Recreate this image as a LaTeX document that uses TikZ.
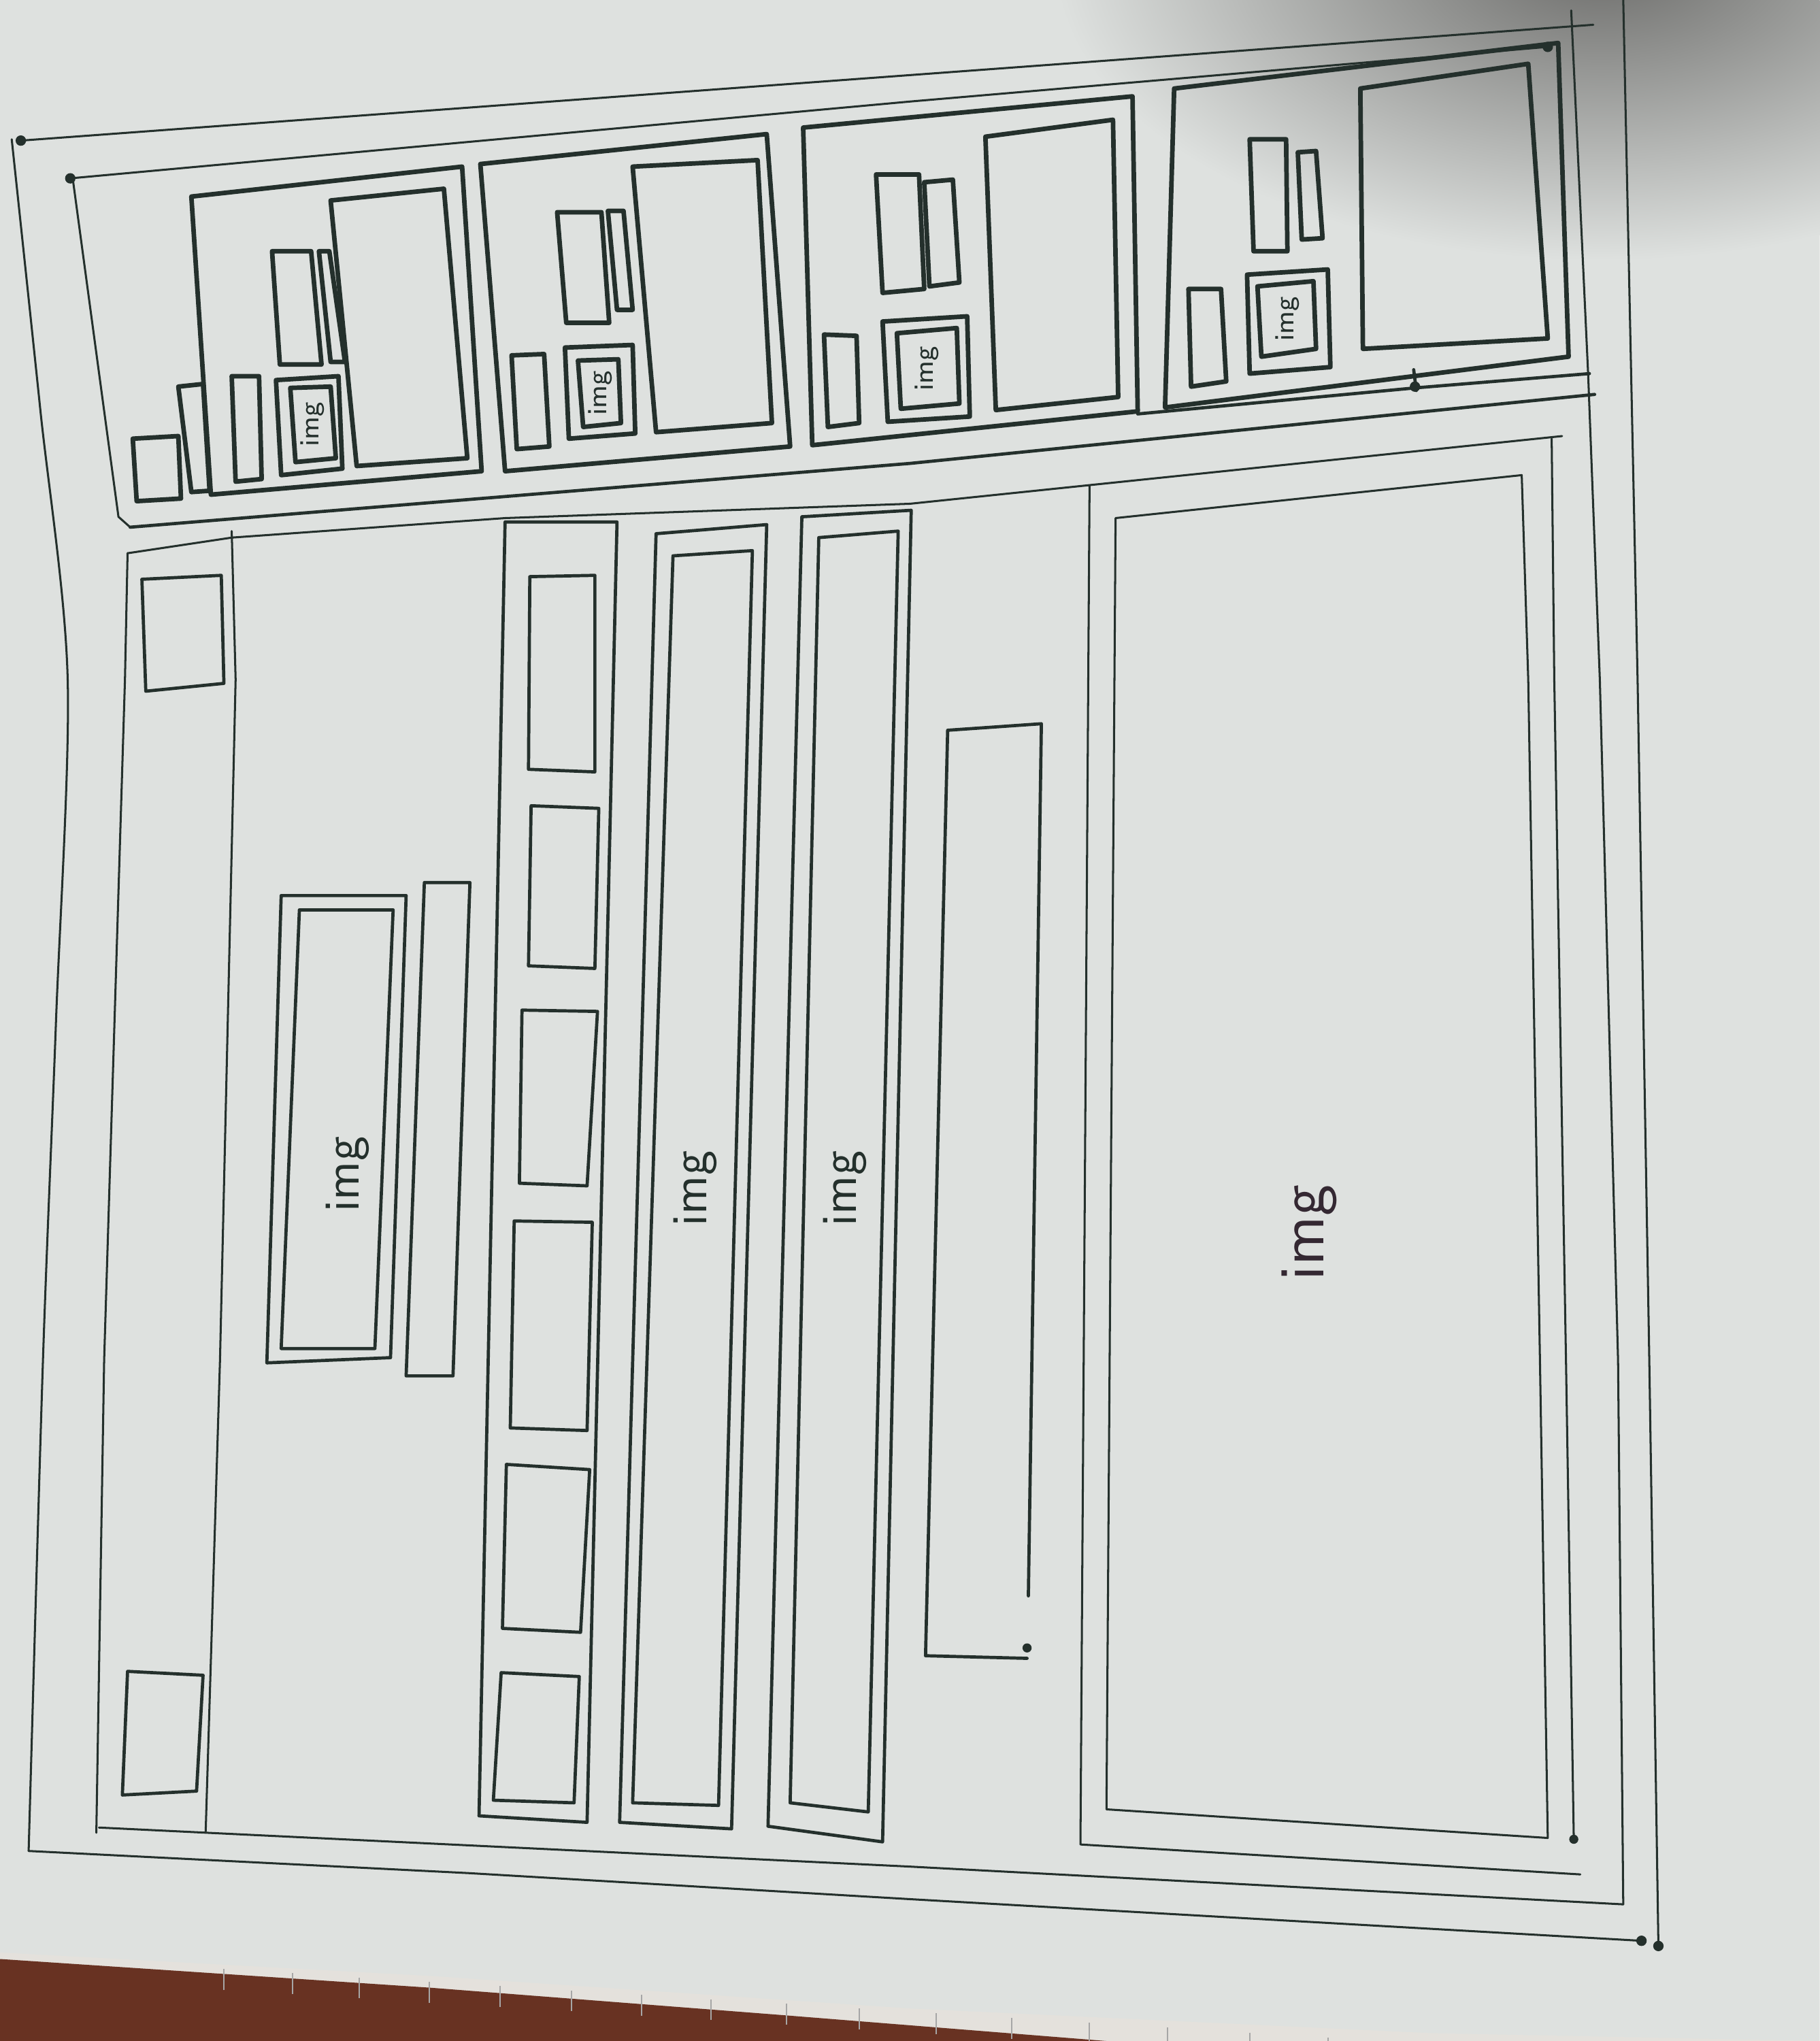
\documentclass[tikz,border=0pt]{standalone}
\definecolor{paper}{RGB}{222,225,223}
\definecolor{ink}{RGB}{36,48,44}
\definecolor{inkp}{RGB}{52,40,50}
\definecolor{shadowgrey}{RGB}{108,108,106}
\definecolor{wood}{RGB}{104,50,34}
\definecolor{ruler}{RGB}{228,225,220}
\begin{document}
\begin{tikzpicture}[x=0.01cm, y=-0.01cm,
    outline/.style={draw=ink, line width=0.45pt, line cap=round, line join=round},
    pen/.style={draw=ink, line width=0.7pt, line cap=round, line join=round},
    heavy/.style={draw=ink, line width=1pt, line cap=round, line join=round},
    lbl/.style={inner sep=0pt, rotate=90, text=ink, font=\sffamily},
    blob/.style={fill=ink},
  ]
  \useasboundingbox (0,0) rectangle (1398,1568);
  \begin{scope}
    \clip (0,0) rectangle (1398,1568);
    % paper, shadow and desk
    \fill[paper] (0,0) rectangle (1398,1568);
    \shade[inner color=shadowgrey, outer color=paper] (1230,-30) ellipse (420 and 230);
    \fill[ruler] (0,1500) -- (330,1518) -- (699,1543) -- (1100,1562) -- (1398,1568) -- (0,1568) -- cycle;
    \fill[wood] (0,1505) -- (330,1527) -- (600,1548) -- (850,1568) -- (0,1568) -- cycle;
    \foreach \t in {172,225,276,330,384,439,493,546,604,660,719,777,837,897,960,1020} {
      \draw[gray!70, line width=0.3pt] (\t,1502+0.062*\t) -- (\t,1518+0.062*\t);
    }
  \end{scope}

  % outer frame
  \draw[outline] (16,108) -- (1224,19);
  \draw[outline] plot[smooth] coordinates {(9,107) (31,315) (52,522) (43,785) (33,1045) (22,1422)};
  \draw[outline] (22,1422) -- (360,1439) -- (699,1459) -- (1261,1491);
  \draw[outline] (1247,0) -- (1258,522) -- (1267,1045) -- (1274,1495);
  \fill[blob] (16,108) circle (4) (1261,1491) circle (4) (1274,1495) circle (4);

  % second frame
  \draw[outline] (54,137) -- (699,78) -- (1189,36);
  \draw[outline] (56,138) -- (91,397) -- (100,405);
  \draw[outline] (1207,8) -- (1220,287) -- (1229,522) -- (1243,1045) -- (1247,1463);
  \draw[outline] (76,1404) -- (699,1434) -- (1247,1463);
  \fill[blob] (54,137) circle (4) (1189,36) circle (4);

  % separators under the cards
  \draw[pen] (874,318) -- (1087,298) -- (1221,287);
  \draw[pen] (1086,284) -- (1088,300);
  \fill[blob] (1087,297) circle (4);
  \draw[pen] (100,405) -- (699,356) -- (1225,303);
  \draw[outline] (98,425) -- (178,413) -- (388,398) -- (699,387) -- (1200,335);

  % card 1
  \draw[heavy] (147,151) -- (355,128) -- (370,362) -- (162,380) -- cycle;
  \draw[heavy] (254,154) -- (341,145) -- (359,352) -- (274,358) -- cycle;
  \draw[heavy] (209,193) -- (239,193) -- (247,280) -- (215,280) -- cycle;
  \draw[heavy] (245,193) -- (253,193) -- (265,278) -- (254,278) -- cycle;
  \draw[heavy] (212,292) -- (260,289) -- (263,360) -- (216,365) -- cycle;
  \draw[heavy] (223,298) -- (254,297) -- (258,352) -- (227,355) -- cycle;
  \draw[heavy] (178,289) -- (199,289) -- (201,368) -- (181,370) -- cycle;
  \draw[heavy] (137,297) -- (156,295) -- (161,377) -- (147,378) -- cycle;
  \draw[heavy] (102,337) -- (137,335) -- (139,383) -- (105,385) -- cycle;
  \node[lbl, font=\sffamily\fontsize{6}{6}\selectfont] (imgA) at (240,326) {img};

  % card 2
  \draw[heavy] (369,126) -- (589,103) -- (607,343) -- (388,362) -- cycle;
  \draw[heavy] (486,128) -- (582,123) -- (593,325) -- (504,332) -- cycle;
  \draw[heavy] (428,163) -- (462,163) -- (468,248) -- (435,248) -- cycle;
  \draw[heavy] (467,162) -- (479,162) -- (486,238) -- (474,238) -- cycle;
  \draw[heavy] (434,267) -- (486,265) -- (488,333) -- (437,337) -- cycle;
  \draw[heavy] (444,277) -- (475,276) -- (477,325) -- (448,328) -- cycle;
  \draw[heavy] (393,273) -- (418,272) -- (422,343) -- (397,345) -- cycle;
  \node[lbl, font=\sffamily\fontsize{6}{6}\selectfont] (imgB) at (461,302) {img};

  % card 3
  \draw[heavy] (617,98) -- (870,74) -- (874,316) -- (624,342) -- cycle;
  \draw[heavy] (757,105) -- (855,92) -- (859,305) -- (765,315) -- cycle;
  \draw[heavy] (673,134) -- (706,134) -- (710,222) -- (678,225) -- cycle;
  \draw[heavy] (710,140) -- (732,138) -- (737,217) -- (714,220) -- cycle;
  \draw[heavy] (678,247) -- (743,243) -- (745,320) -- (682,324) -- cycle;
  \draw[heavy] (689,256) -- (735,252) -- (737,310) -- (692,314) -- cycle;
  \draw[heavy] (633,257) -- (658,258) -- (660,325) -- (636,328) -- cycle;
  \node[lbl, font=\sffamily\fontsize{6}{6}\selectfont] (imgC) at (712,283) {img};

  % card 4
  \draw[heavy] (902,68) -- (1197,33) -- (1205,274) -- (895,313) -- cycle;
  \draw[heavy] (1045,68) -- (1174,49) -- (1189,260) -- (1047,268) -- cycle;
  \draw[heavy] (960,107) -- (988,107) -- (989,193) -- (963,193) -- cycle;
  \draw[heavy] (997,117) -- (1011,116) -- (1016,183) -- (1000,184) -- cycle;
  \draw[heavy] (958,211) -- (1020,207) -- (1022,282) -- (960,287) -- cycle;
  \draw[heavy] (966,220) -- (1009,216) -- (1011,268) -- (969,274) -- cycle;
  \draw[heavy] (913,222) -- (938,222) -- (942,293) -- (915,297) -- cycle;
  \node[lbl, font=\sffamily\fontsize{6}{6}\selectfont] (imgD) at (989,245) {img};

  % sidebar
  \draw[outline] (98,425) -- (96,522) -- (80,1045) -- (74,1408);
  \draw[outline] (178,408) -- (181,522) -- (169,1045) -- (158,1407);
  \draw[pen] (109,445) -- (170,442) -- (172,525) -- (112,531) -- cycle;
  \draw[pen] (98,1284) -- (156,1287) -- (151,1376) -- (94,1379) -- cycle;

  % banner and bar
  \draw[pen] (216,688) -- (312,688) -- (300,1043) -- (205,1047) -- cycle;
  \draw[pen] (230,699) -- (302,699) -- (288,1036) -- (216,1036) -- cycle;
  \draw[pen] (326,678) -- (361,678) -- (348,1057) -- (312,1057) -- cycle;
  \node[lbl, font=\sffamily\fontsize{11}{11}\selectfont] (imgbanner) at (267,902) {img};

  % list with thumbnails
  \draw[pen] (388,401) -- (474,401) -- (451,1400) -- (368,1395) -- cycle;
  \foreach \a/\b/\c/\d in {
      {(407,443)}/{(457,442)}/{(457,593)}/{(406,591)},
      {(408,619)}/{(460,621)}/{(457,744)}/{(406,742)},
      {(401,776)}/{(459,777)}/{(451,911)}/{(399,909)},
      {(395,938)}/{(455,939)}/{(451,1099)}/{(392,1097)},
      {(389,1125)}/{(453,1129)}/{(446,1254)}/{(386,1251)},
      {(385,1285)}/{(445,1288)}/{(441,1385)}/{(379,1383)}} {
    \draw[pen] \a -- \b -- \c -- \d -- cycle;
  }

  % two long rows
  \draw[pen] (504,410) -- (589,403) -- (562,1405) -- (476,1400) -- cycle;
  \draw[pen] (517,427) -- (578,423) -- (552,1387) -- (486,1385) -- cycle;
  \node[lbl, font=\sffamily\fontsize{11}{11}\selectfont] (imgrowA) at (534,913) {img};
  \draw[pen] (616,397) -- (700,392) -- (678,1415) -- (590,1403) -- cycle;
  \draw[pen] (629,413) -- (690,408) -- (667,1392) -- (607,1385) -- cycle;
  \node[lbl, font=\sffamily\fontsize{11}{11}\selectfont] (imgrowB) at (649,913) {img};

  % narrow column
  \draw[pen] (790,1226) -- (800,556) -- (728,561) -- (711,1272) -- (789,1274);
  \fill[blob] (789,1266) circle (3.5);

  % big picture box
  \draw[outline] (837,373) -- (830,1417) -- (1214,1440);
  \draw[outline] (1192,337) -- (1194,522) -- (1203,1045) -- (1209,1413);
  \draw[outline] (857,398) -- (1169,365) -- (1174,522) -- (1183,1045) -- (1189,1412)
    -- (850,1390) -- cycle;
  \fill[blob] (1209,1413) circle (3.5);
  \node[lbl, text=inkp, font=\sffamily\fontsize{14}{14}\selectfont] (imgbig) at (1006,947) {img};
\end{tikzpicture}
\end{document}
